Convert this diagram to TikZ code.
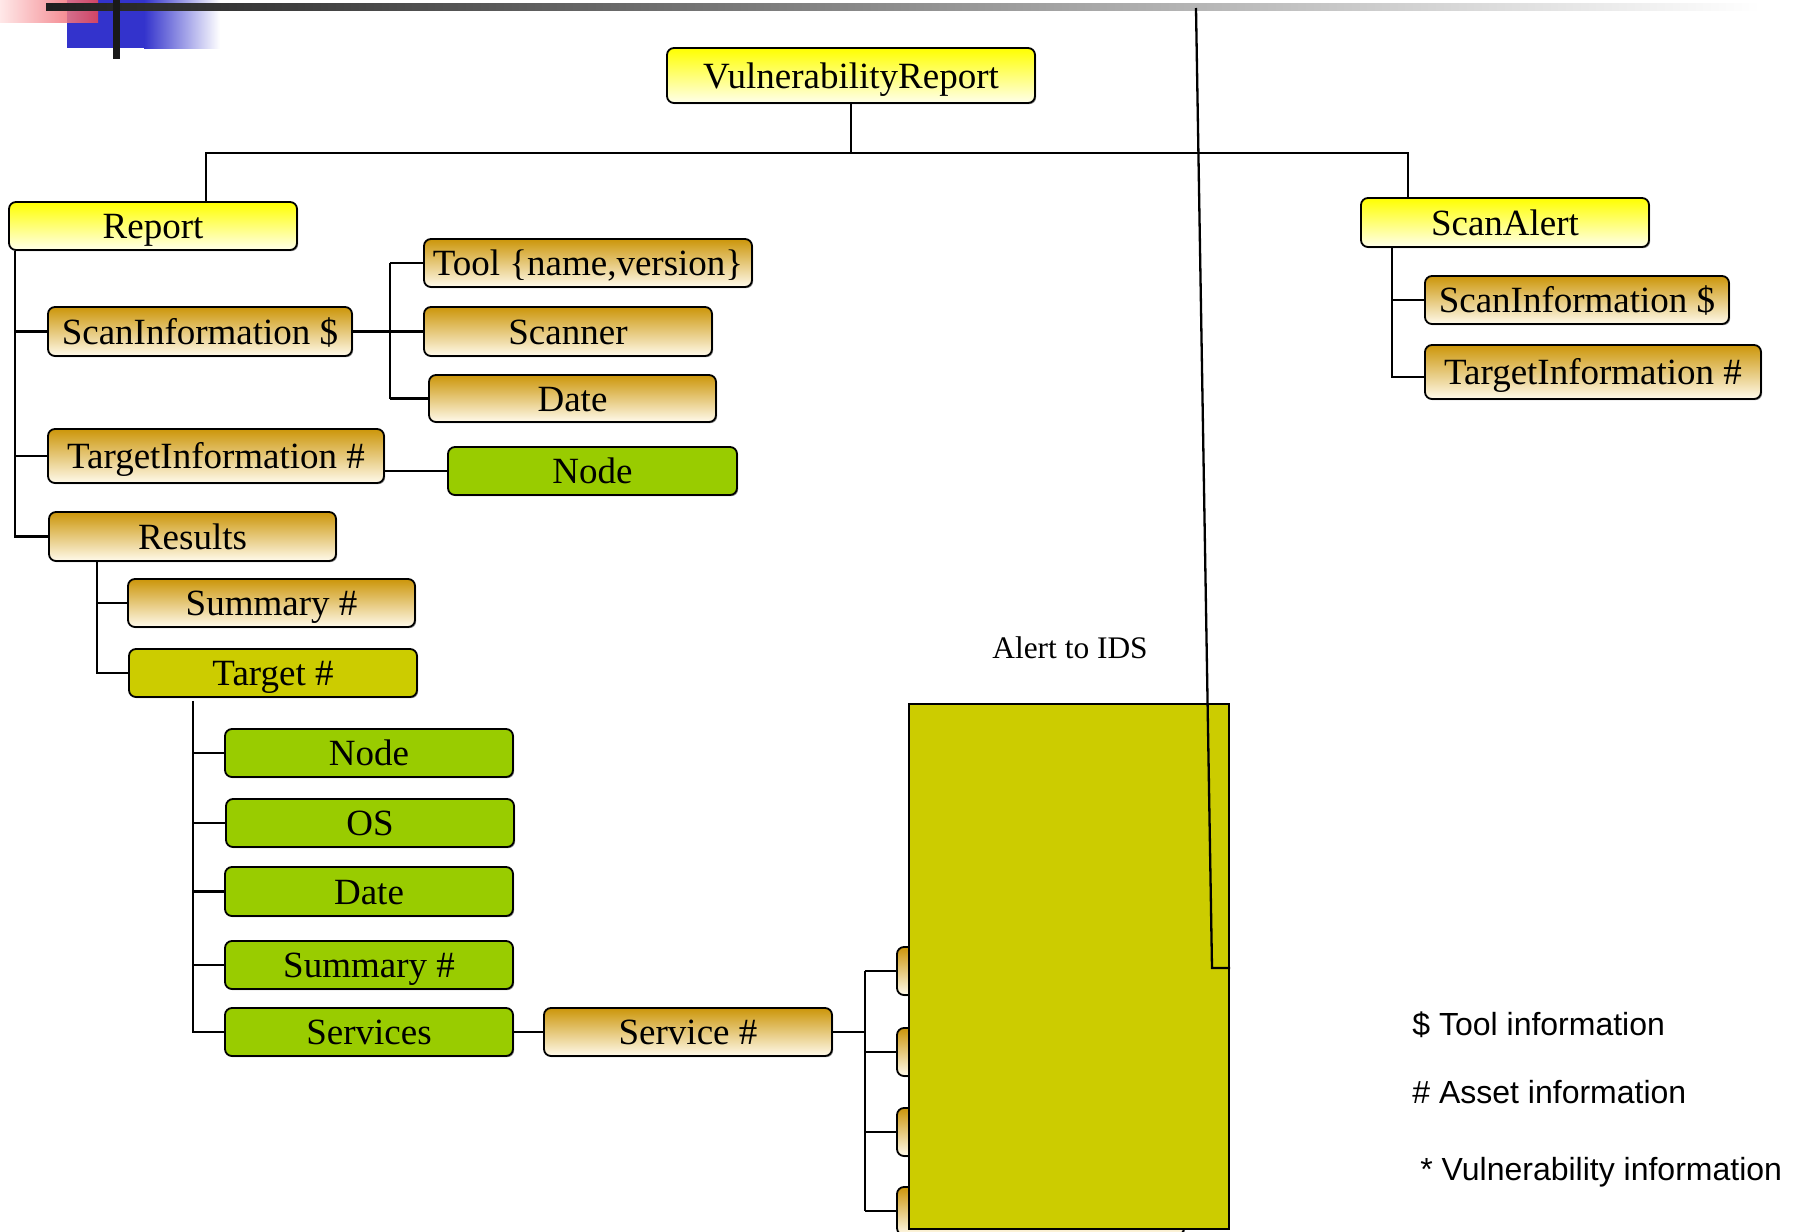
\documentclass[tikz,border=0pt]{standalone}
\usepackage{fontspec}
\setmainfont{Liberation Serif}
\newfontfamily\legendfont{Liberation Sans}
\usetikzlibrary{shadows}

\definecolor{goldtop}{RGB}{204,150,10}
\definecolor{goldbot}{RGB}{255,250,235}
\definecolor{yeltop}{RGB}{255,255,0}
\definecolor{yelbot}{RGB}{255,255,235}
\definecolor{leaf}{RGB}{153,204,0}
\definecolor{olive}{RGB}{204,204,0}
\definecolor{hdrblue}{RGB}{51,51,204}
\definecolor{hdrpinkL}{RGB}{255,228,228}
\definecolor{hdrpinkR}{RGB}{236,72,84}

\tikzset{
  boxbase/.style={draw=black, line width=0.9pt, rounded corners=3.5pt, inner sep=0pt,
    text height=12.7pt, text depth=0pt,
    font=\fontsize{18.5}{20}\selectfont,
    drop shadow={shadow xshift=0.6pt, shadow yshift=-0.6pt, fill=black, opacity=0.45}},
  ybox/.style={boxbase, top color=yeltop, bottom color=yelbot},
  gbox/.style={boxbase, top color=goldtop, bottom color=goldbot},
  lbox/.style={boxbase, fill=leaf},
  obox/.style={boxbase, fill=olive},
  panel/.style={draw=black, line width=1.1pt, fill=olive, inner sep=0pt},
  link/.style={line width=1.15pt},
  legend/.style={anchor=base west, inner sep=0pt, font=\legendfont\fontsize{16}{18}\selectfont},
}

% box from its corners (x1,y1)-(x2,y2), in pixel units
\newcommand\mkbox[7]{%
  \pgfmathsetmacro\bcx{(#3+#5)/2}%
  \pgfmathsetmacro\bcy{(#4+#6)/2}%
  \pgfmathsetmacro\bw{(#5-#3)/2}%
  \pgfmathsetmacro\bh{(#6-#4)/2}%
  \node[#1, minimum width=\bw pt, minimum height=\bh pt] (#2) at (\bcx,\bcy) {#7};}

\begin{document}
\begin{tikzpicture}[x=0.5pt, y=-0.5pt]
\useasboundingbox (0,0) rectangle (1796,1232);

% slide header ornament
\fill[hdrblue] (67,0) rectangle (144,48);
\shade[left color=hdrblue, right color=white] (144,0) rectangle (220,48);
\shade[left color=hdrpinkL, right color=hdrpinkR, fill opacity=0.85] (0,0) rectangle (98,22);
\shade[left color=black!88, right color=white] (46,3) rectangle (1760,10);
\fill[black!90] (113,0) rectangle (120,59);

% top level
\mkbox{ybox}{vr}{667}{48}{1035}{103}{VulnerabilityReport}
\mkbox{ybox}{rep}{9}{202}{297}{250}{Report}
\mkbox{ybox}{sa}{1361}{198}{1649}{247}{ScanAlert}

% Report branch
\mkbox{gbox}{si}{48}{307}{352}{356}{ScanInformation \$}
\mkbox{gbox}{tool}{424}{239}{752}{287}{Tool \{name,version\}}
\mkbox{gbox}{scan}{424}{307}{712}{356}{Scanner}
\mkbox{gbox}{date}{429}{375}{716}{422}{Date}
\mkbox{gbox}{ti}{48}{429}{384}{483}{TargetInformation \#}
\mkbox{lbox}{n1}{448}{447}{737}{495}{Node}
\mkbox{gbox}{res}{49}{512}{336}{561}{Results}
\mkbox{gbox}{sum1}{128}{579}{415}{627}{Summary \#}
\mkbox{obox}{tgt}{129}{649}{417}{697}{Target \#}
\mkbox{lbox}{n2}{225}{729}{513}{777}{Node}
\mkbox{lbox}{os}{226}{799}{514}{847}{OS}
\mkbox{lbox}{date2}{225}{867}{513}{916}{Date}
\mkbox{lbox}{sum2}{225}{941}{513}{989}{Summary \#}
\mkbox{lbox}{svcs}{225}{1008}{513}{1056}{Services}
\mkbox{gbox}{svc}{544}{1008}{832}{1056}{Service \#}

% ScanAlert branch
\mkbox{gbox}{sasi}{1425}{276}{1729}{324}{ScanInformation \$}
\mkbox{gbox}{sati}{1425}{345}{1761}{399}{TargetInformation \#}

% entries behind the alert panel
\mkbox{gbox}{t1}{897}{947}{1184}{995}{}
\mkbox{gbox}{t2}{897}{1028}{1184}{1076}{}
\mkbox{gbox}{t3}{897}{1108}{1184}{1156}{}
\mkbox{gbox}{t4}{897}{1187}{1184}{1235}{}

% alert panel
\mkbox{panel}{big}{909}{704}{1229}{1229}{}
\node[anchor=base west, inner sep=0pt, font=\fontsize{15.7}{18}\selectfont] (alert) at (992,658) {Alert to IDS};

% root bus
\coordinate (bus) at (0,153);
\draw[link] (vr.south) -- (vr.south |- bus);
\path (rep.north west) ++(198,0) coordinate (repT);
\path (sa.north west) ++(48,0) coordinate (saT);
\draw[link] (repT) -- (repT |- bus) -- (saT |- bus) -- (saT);

% Report trunk
\path (rep.south west) ++(7,0) coordinate (rT);
\draw[link] (rT) |- (res.west);
\draw[link] (rT |- si.west) -- (si.west);
\draw[link] (rT |- ti.west) -- (ti.west);

% ScanInformation fan
\path (si.east) ++(37,0) coordinate (sF);
\draw[link] (si.east) -- (sF);
\draw[link] (sF |- tool.west) -- (sF |- date.west);
\foreach \n in {tool,scan,date} \draw[link] (sF |- \n.west) -- (\n.west);

% TargetInformation to Node
\draw[link] (n1.west -| ti.east) -- (n1.west);

% Results trunk
\path (res.south west) ++(49,0) coordinate (resT);
\draw[link] (resT) |- (tgt.west);
\draw[link] (resT |- sum1.west) -- (sum1.west);

% Target trunk
\path (tgt.south west) ++(65,3) coordinate (tT);
\draw[link] (tT) |- (svcs.west);
\foreach \n in {n2,os,date2,sum2} \draw[link] (tT |- \n.west) -- (\n.west);

% Services
\draw[link] (svcs.east) -- (svc.west);
\path (svc.east) ++(32,0) coordinate (vF);
\draw[link] (svc.east) -- (vF);
\draw[link] (vF |- t1.west) -- (vF |- t4.west);
\foreach \n in {t1,t2,t3,t4} \draw[link] (vF |- \n.west) -- (\n.west);

% ScanAlert trunk
\path (sa.south west) ++(32,0) coordinate (saB);
\draw[link] (saB) |- ([yshift=-2.5pt]sati.west);
\draw[link] (saB |- sasi.west) -- (sasi.west);

% alert line into the panel
\coordinate (lt) at (1196,8);
\coordinate (lb) at (1212,968);
\draw[link] (lt) -- (lb) -- (lb -| big.east);

% legend
\node[legend] (lg1) at (1412,1035) {\$ Tool information};
\node[legend] (lg2) at (1412,1103) {\# Asset information};
\node[legend] (lg3) at (1420,1180) {* Vulnerability information};
\end{tikzpicture}
\end{document}
